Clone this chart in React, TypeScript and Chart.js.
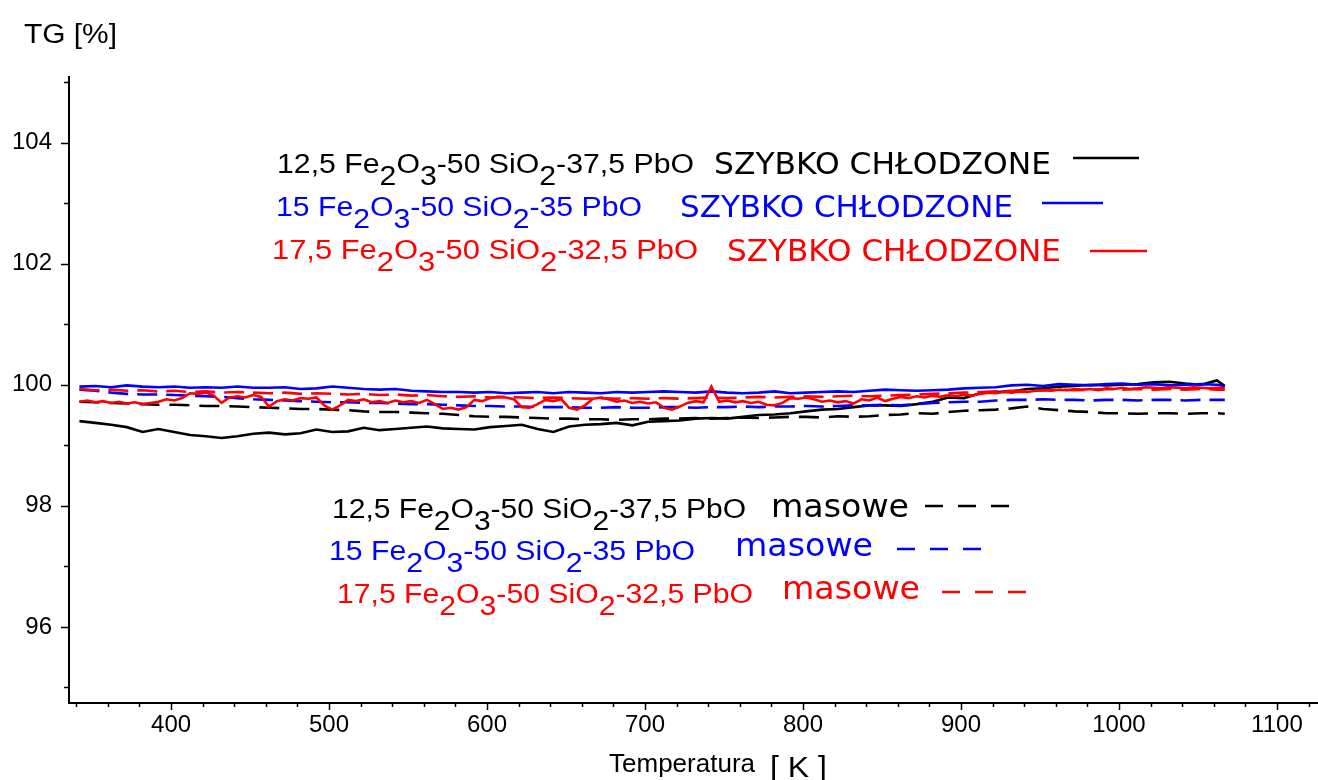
import React, { useEffect, useRef } from "react";
import { Chart, registerables } from "chart.js";

Chart.register(...registerables);

// ---------- data ----------
const temperatureK = [
  342, 352, 362, 372, 382, 392, 402, 412, 422, 432, 442, 452, 462, 472, 482, 492, 502, 512, 522, 532,
  542, 552, 562, 572, 582, 592, 602, 612, 622, 632, 642, 652, 662, 672, 682, 692, 702, 712, 722, 732,
  742, 752, 762, 772, 782, 792, 802, 812, 822, 832, 842, 852, 862, 872, 882, 892, 902, 912, 922, 932,
  942, 952, 962, 972, 982, 992, 1002, 1012, 1022, 1032, 1042, 1052, 1062, 1067,
];

const temperatureFineK = [
  342, 347, 352, 357, 362, 367, 372, 377, 382, 387,
  392, 397, 402, 407, 412, 417, 422, 427, 432, 437,
  442, 447, 452, 457, 462, 467, 472, 477, 482, 487,
  492, 497, 502, 507, 512, 517, 522, 527, 532, 537,
  542, 547, 552, 557, 562, 567, 572, 577, 582, 587,
  592, 597, 602, 607, 612, 617, 622, 627, 632, 637,
  642, 647, 652, 657, 662, 667, 672, 677, 682, 687,
  692, 697, 702, 707, 712, 717, 722, 727, 732, 737,
  742, 747, 752, 757, 762, 767, 772, 777, 782, 787,
  792, 797, 802, 807, 812, 817, 822, 827, 832, 837,
  842, 847, 852, 857, 862, 867, 872, 877, 882, 887,
  892, 897, 902, 907, 912, 917, 922, 927, 932, 937,
  942, 947, 952, 957, 962, 967, 972, 977, 982, 987,
  992, 997, 1002, 1007, 1012, 1017, 1022, 1027, 1032, 1037,
  1042, 1047, 1052, 1057, 1062, 1067,
];

// 12,5 Fe2O3 - SZYBKO CHŁODZONE (solid black)
const fe125Quenched = [
  99.40, 99.37, 99.34, 99.30, 99.22, 99.27, 99.22, 99.17, 99.15, 99.12, 99.15, 99.19, 99.21, 99.18, 99.20, 99.26, 99.22, 99.23, 99.29, 99.25,
  99.27, 99.29, 99.31, 99.28, 99.27, 99.26, 99.30, 99.32, 99.34, 99.27, 99.22, 99.31, 99.34, 99.35, 99.37, 99.33, 99.39, 99.40, 99.41, 99.44,
  99.45, 99.44, 99.47, 99.50, 99.51, 99.53, 99.56, 99.59, 99.60, 99.63, 99.66, 99.66, 99.65, 99.68, 99.72, 99.79, 99.78, 99.86, 99.88, 99.89,
  99.93, 99.94, 99.97, 99.98, 100.00, 99.99, 100.00, 100.01, 100.04, 100.05, 100.02, 100.00, 100.07, 99.98,
];
// 12,5 Fe2O3 - masowe (dashed black)
const fe125Bulk = [
  99.72, 99.71, 99.70, 99.69, 99.68, 99.67, 99.67, 99.66, 99.65, 99.65, 99.64, 99.63, 99.62, 99.61, 99.60, 99.60, 99.59, 99.58, 99.56, 99.55,
  99.55, 99.54, 99.53, 99.52, 99.50, 99.48, 99.47, 99.47, 99.46, 99.45, 99.44, 99.44, 99.43, 99.43, 99.42, 99.43, 99.43, 99.44, 99.44, 99.45,
  99.44, 99.45, 99.46, 99.45, 99.46, 99.47, 99.47, 99.46, 99.48, 99.47, 99.48, 99.50, 99.51, 99.53, 99.52, 99.55, 99.57, 99.58, 99.59, 99.61,
  99.64, 99.60, 99.58, 99.56, 99.55, 99.53, 99.53, 99.52, 99.53, 99.53, 99.52, 99.53, 99.53, 99.52,
];
// 15 Fe2O3 - SZYBKO CHŁODZONE (solid blue)
const fe15Quenched = [
  99.97, 99.98, 99.96, 99.99, 99.97, 99.96, 99.97, 99.95, 99.96, 99.95, 99.97, 99.95, 99.95, 99.96, 99.93, 99.94, 99.97, 99.95, 99.93, 99.92,
  99.93, 99.90, 99.89, 99.88, 99.88, 99.87, 99.88, 99.86, 99.87, 99.88, 99.86, 99.88, 99.87, 99.86, 99.88, 99.87, 99.88, 99.89, 99.88, 99.87,
  99.89, 99.87, 99.86, 99.87, 99.89, 99.86, 99.87, 99.88, 99.89, 99.88, 99.90, 99.92, 99.91, 99.90, 99.91, 99.92, 99.94, 99.95, 99.96, 99.99,
  100.00, 99.98, 100.01, 100.00, 99.99, 100.01, 100.02, 100.00, 100.01, 99.99, 100.00, 100.01, 100.00, 99.98,
];
// 15 Fe2O3 - masowe (dashed blue)
const fe15Bulk = [
  99.92, 99.90, 99.87, 99.85, 99.84, 99.84, 99.83, 99.82, 99.81, 99.80, 99.78, 99.76, 99.75, 99.74, 99.73, 99.72, 99.71, 99.71, 99.70, 99.70,
  99.69, 99.68, 99.68, 99.67, 99.66, 99.65, 99.65, 99.64, 99.64, 99.63, 99.63, 99.63, 99.62, 99.62, 99.63, 99.62, 99.62, 99.63, 99.63, 99.62,
  99.63, 99.63, 99.64, 99.63, 99.64, 99.64, 99.65, 99.64, 99.65, 99.66, 99.66, 99.67, 99.66, 99.68, 99.70, 99.71, 99.72, 99.72, 99.74, 99.75,
  99.75, 99.76, 99.75, 99.75, 99.74, 99.75, 99.75, 99.74, 99.75, 99.75, 99.74, 99.75, 99.75, 99.75,
];
// 17,5 Fe2O3 - SZYBKO CHŁODZONE (solid red), on the finer temperature grid
const fe175Quenched = [
  99.72, 99.74, 99.71, 99.73, 99.70, 99.72, 99.69, 99.71, 99.68, 99.70,
  99.72, 99.76, 99.74, 99.78, 99.86, 99.85, 99.87, 99.82, 99.70, 99.79,
  99.81, 99.79, 99.83, 99.80, 99.64, 99.73, 99.76, 99.74, 99.78, 99.77,
  99.79, 99.66, 99.59, 99.66, 99.75, 99.73, 99.76, 99.71, 99.73, 99.70,
  99.74, 99.71, 99.73, 99.70, 99.75, 99.68, 99.60, 99.62, 99.59, 99.63,
  99.75, 99.73, 99.78, 99.80, 99.79, 99.76, 99.63, 99.62, 99.68, 99.75,
  99.73, 99.76, 99.62, 99.59, 99.66, 99.77, 99.79, 99.76, 99.72, 99.74,
  99.70, 99.72, 99.69, 99.71, 99.62, 99.59, 99.64, 99.70, 99.73, 99.71,
  99.97, 99.72, 99.74, 99.71, 99.73, 99.70, 99.72, 99.67, 99.66, 99.70,
  99.78, 99.77, 99.79, 99.76, 99.72, 99.74, 99.71, 99.73, 99.69, 99.76,
  99.74, 99.79, 99.73, 99.77, 99.80, 99.78, 99.81, 99.79, 99.82, 99.80,
  99.83, 99.81, 99.84, 99.82, 99.85, 99.87, 99.86, 99.88, 99.87, 99.89,
  99.88, 99.90, 99.91, 99.90, 99.92, 99.91, 99.93, 99.92, 99.93, 99.91,
  99.94, 99.93, 99.95, 99.93, 99.94, 99.96, 99.95, 99.94, 99.96, 99.95,
  99.94, 99.96, 99.95, 99.94, 99.95, 99.94,
];
// 17,5 Fe2O3 - masowe (dashed red)
const fe175Bulk = [
  99.93, 99.91, 99.92, 99.90, 99.91, 99.89, 99.90, 99.88, 99.89, 99.87, 99.88, 99.87, 99.86, 99.87, 99.85, 99.86, 99.85, 99.84, 99.85, 99.83,
  99.84, 99.82, 99.83, 99.81, 99.80, 99.81, 99.79, 99.80, 99.79, 99.78, 99.79, 99.78, 99.77, 99.78, 99.77, 99.78, 99.77, 99.78, 99.77, 99.78,
  99.79, 99.78, 99.79, 99.80, 99.79, 99.80, 99.81, 99.80, 99.81, 99.82, 99.81, 99.82, 99.83, 99.84, 99.85, 99.86, 99.87, 99.88, 99.89, 99.90,
  99.90, 99.91, 99.92, 99.91, 99.92, 99.93, 99.92, 99.93, 99.92, 99.93, 99.92, 99.93, 99.92, 99.92,
];

const xMajorTicks = [400, 500, 600, 700, 800, 900, 1000, 1100];
const yMajorTicks = [96, 98, 100, 102, 104];
const xMinorTicks = [340, 360, 380, 420, 440, 460, 480, 520, 540, 560, 580, 620, 640, 660, 680, 720, 740, 760, 780, 820, 840, 860, 880, 920, 940, 960, 980, 1020, 1040, 1060, 1080, 1120];
const yMinorTicks = [95, 97, 99, 101, 103, 105];

const X_MIN = 335.4;
const X_MAX = 1126;
const Y_MIN = 94.76;
const Y_MAX = 105.1;

const BLACK = "#000000";
const BLUE = "#0000ff";
const RED = "#ff0000";

const ARIAL = "'Liberation Sans', Arial, sans-serif";
const VERDANA = "'DejaVu Sans', Verdana, sans-serif";

type Seg = { t: string; sub?: boolean };
const formula = (a: string, b: string): Seg[] => [
  { t: a + " Fe" },
  { t: "2", sub: true },
  { t: "O" },
  { t: "3", sub: true },
  { t: "-50 SiO" },
  { t: "2", sub: true },
  { t: "-" + b + " PbO" },
];

function drawFitted(
  ctx: CanvasRenderingContext2D,
  segs: Seg[],
  x: number,
  baseline: number,
  width: number,
  font: string,
  color: string,
  subDrop: number
) {
  ctx.save();
  ctx.font = font;
  ctx.fillStyle = color;
  ctx.textAlign = "left";
  ctx.textBaseline = "alphabetic";
  let natural = 0;
  for (const s of segs) natural += ctx.measureText(s.t).width;
  ctx.translate(x, baseline);
  ctx.scale(width / natural, 1);
  let cx = 0;
  for (const s of segs) {
    ctx.fillText(s.t, cx, s.sub ? subDrop : 0);
    cx += ctx.measureText(s.t).width;
  }
  ctx.restore();
}

function sampleLine(ctx: CanvasRenderingContext2D, x1: number, x2: number, y: number, color: string, dash: number[]) {
  ctx.save();
  ctx.strokeStyle = color;
  ctx.lineWidth = 2.4;
  ctx.setLineDash(dash);
  ctx.beginPath();
  ctx.moveTo(x1, y);
  ctx.lineTo(x2, y);
  ctx.stroke();
  ctx.restore();
}

const overlayPlugin = {
  id: "overlay",
  afterDraw(chart: any) {
    const ctx: CanvasRenderingContext2D = chart.ctx;
    const xs = chart.scales.x;
    const ys = chart.scales.y;
    const { left, right, top, bottom } = chart.chartArea;

    ctx.save();
    ctx.strokeStyle = "#000";
    ctx.lineWidth = 2;
    ctx.beginPath();
    ctx.moveTo(left, top);
    ctx.lineTo(left, bottom + 1);
    ctx.lineTo(right, bottom + 1);
    ctx.stroke();

    ctx.lineWidth = 1.5;
    ctx.beginPath();
    for (const v of yMajorTicks) {
      const p = Math.round(ys.getPixelForValue(v)) + 0.5;
      ctx.moveTo(left - 8, p);
      ctx.lineTo(left, p);
    }
    for (const v of yMinorTicks) {
      const p = Math.round(ys.getPixelForValue(v)) + 0.5;
      ctx.moveTo(left - 5, p);
      ctx.lineTo(left, p);
    }
    for (const v of xMajorTicks) {
      const p = Math.round(xs.getPixelForValue(v)) + 0.5;
      ctx.moveTo(p, bottom);
      ctx.lineTo(p, bottom + 8);
    }
    for (const v of xMinorTicks) {
      const p = Math.round(xs.getPixelForValue(v)) + 0.5;
      ctx.moveTo(p, bottom);
      ctx.lineTo(p, bottom + 5);
    }
    ctx.stroke();
    ctx.restore();

    // axis titles
    drawFitted(ctx, [{ t: "TG [%]" }], 24, 43, 93, `27px ${ARIAL}`, BLACK, 0);
    drawFitted(ctx, [{ t: "Temperatura" }], 609, 772, 146, `25px ${ARIAL}`, BLACK, 0);
    drawFitted(ctx, [{ t: "[ K ]" }], 770, 777, 57, `29px ${ARIAL}`, BLACK, 0);

    // annotations
    const fF = `27px ${ARIAL}`;
    const fV = `31px ${VERDANA}`;
    const fM = `32px ${VERDANA}`;
    drawFitted(ctx, formula("12,5", "37,5"), 277, 173, 417, fF, BLACK, 12);
    drawFitted(ctx, [{ t: "SZYBKO CHŁODZONE" }], 714, 174, 337, fV, BLACK, 0);
    sampleLine(ctx, 1073, 1139, 158, BLACK, []);

    drawFitted(ctx, formula("15", "35"), 276, 216, 366, fF, BLUE, 12);
    drawFitted(ctx, [{ t: "SZYBKO CHŁODZONE" }], 680, 217, 333, fV, BLUE, 0);
    sampleLine(ctx, 1042, 1103, 203, BLUE, []);

    drawFitted(ctx, formula("17,5", "32,5"), 272, 259, 426, fF, RED, 12);
    drawFitted(ctx, [{ t: "SZYBKO CHŁODZONE" }], 727, 261, 334, fV, RED, 0);
    sampleLine(ctx, 1090, 1147, 251, RED, []);

    drawFitted(ctx, formula("12,5", "37,5"), 332, 518, 414, fF, BLACK, 12);
    drawFitted(ctx, [{ t: "masowe" }], 771, 517, 138, fM, BLACK, 0);
    sampleLine(ctx, 925, 1012, 506, BLACK, [18, 15]);

    drawFitted(ctx, formula("15", "35"), 329, 560, 366, fF, BLUE, 12);
    drawFitted(ctx, [{ t: "masowe" }], 735, 556, 138, fM, BLUE, 0);
    sampleLine(ctx, 897, 983, 549, BLUE, [18, 15]);

    drawFitted(ctx, formula("17,5", "32,5"), 337, 603, 416, fF, RED, 12);
    drawFitted(ctx, [{ t: "masowe" }], 782, 599, 138, fM, RED, 0);
    sampleLine(ctx, 942, 1028, 592, RED, [18, 15]);
  },
};

function pts(xs: number[], ys: number[]) {
  return ys.map((y, i) => ({ x: xs[i], y }));
}

export default function App() {
  const ref = useRef<HTMLCanvasElement | null>(null);

  useEffect(() => {
    if (!ref.current) return;
    const lw = 2.6;
    const chart = new Chart(ref.current, {
      type: "line",
      data: {
        datasets: [
          { label: "17,5 szybko", data: pts(temperatureFineK, fe175Quenched), borderColor: RED, borderWidth: lw, pointRadius: 0, tension: 0 },
          { label: "17,5 masowe", data: pts(temperatureK, fe175Bulk), borderColor: RED, borderWidth: lw, pointRadius: 0, tension: 0, borderDash: [20, 9] },
          { label: "15 szybko", data: pts(temperatureK, fe15Quenched), borderColor: BLUE, borderWidth: lw, pointRadius: 0, tension: 0 },
          { label: "15 masowe", data: pts(temperatureK, fe15Bulk), borderColor: BLUE, borderWidth: lw, pointRadius: 0, tension: 0, borderDash: [20, 9] },
          { label: "12,5 szybko", data: pts(temperatureK, fe125Quenched), borderColor: BLACK, borderWidth: lw, pointRadius: 0, tension: 0 },
          { label: "12,5 masowe", data: pts(temperatureK, fe125Bulk), borderColor: BLACK, borderWidth: lw, pointRadius: 0, tension: 0, borderDash: [20, 10] },
        ],
      },
      options: {
        responsive: false,
        animation: false,
        devicePixelRatio: 1,
        layout: { padding: { top: 76, right: 0, bottom: 0, left: 0 } },
        plugins: { legend: { display: false }, tooltip: { enabled: false }, title: { display: false } },
        scales: {
          x: {
            type: "linear",
            min: X_MIN,
            max: X_MAX,
            grid: { display: false, drawTicks: false },
            border: { display: false },
            afterBuildTicks: (s: any) => {
              s.ticks = xMajorTicks.map((v) => ({ value: v }));
            },
            afterFit: (s: any) => {
              s.height = 78;
              s.paddingLeft = 0;
              s.paddingRight = 0;
            },
            ticks: {
              color: "#000",
              font: { family: ARIAL, size: 24 },
              padding: 9,
              maxRotation: 0,
              autoSkip: false,
              callback: (v: any) => String(v),
            },
          },
          y: {
            type: "linear",
            min: Y_MIN,
            max: Y_MAX,
            grid: { display: false, drawTicks: false },
            border: { display: false },
            afterBuildTicks: (s: any) => {
              s.ticks = yMajorTicks.map((v) => ({ value: v }));
            },
            afterFit: (s: any) => {
              s.width = 69;
            },
            ticks: {
              color: "#000",
              font: { family: ARIAL, size: 24 },
              padding: 17,
              callback: (v: any) => String(v),
            },
          },
        },
      },
      plugins: [overlayPlugin],
    });
    return () => chart.destroy();
  }, []);

  return (
    <div style={{ position: "absolute", left: 0, top: 0, width: 1318, height: 780, background: "#fff" }}>
      <canvas ref={ref} width={1318} height={780} style={{ width: 1318, height: 780, display: "block" }} />
    </div>
  );
}
